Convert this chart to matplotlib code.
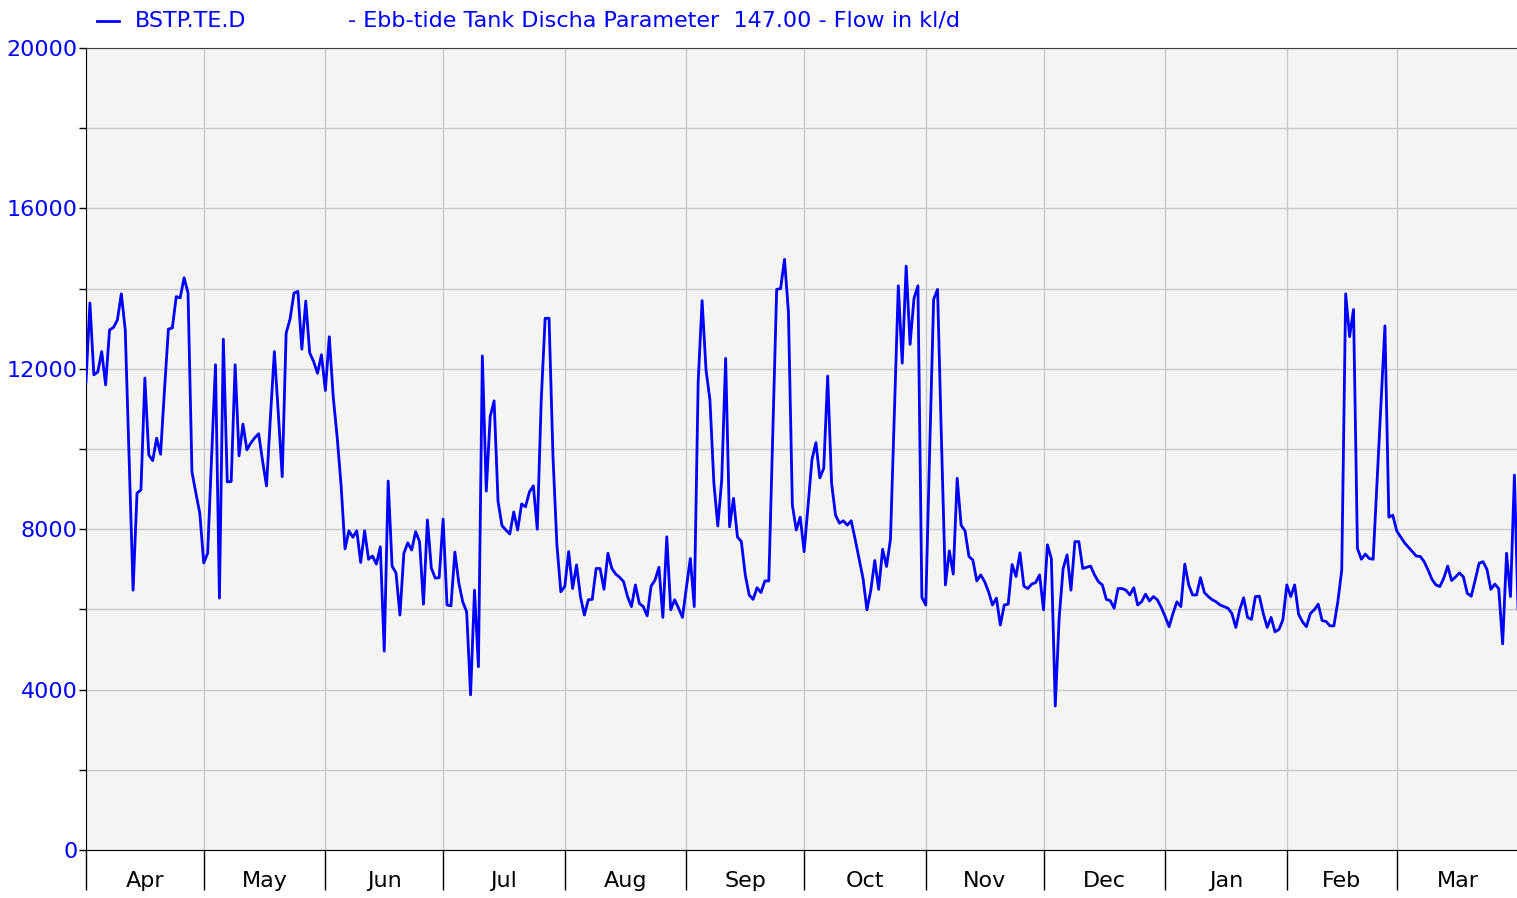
import numpy as np
import matplotlib
matplotlib.use("Agg")
import matplotlib.pyplot as plt
from matplotlib.lines import Line2D
from matplotlib.ticker import MultipleLocator, FixedLocator, NullFormatter

# daily flow in kl/d, one list per month (Apr .. Mar)
apr = [11680, 13640, 11850, 11920, 12430, 11600, 12970, 13030, 13220, 13870,
       12970, 9700, 6480, 8900, 8980, 11770, 9850, 9710, 10270, 9870,
       11470, 12990, 13020, 13800, 13770, 14270, 13890, 9430, 8900, 8400]
may = [7160, 7400, 9800, 12100, 6280, 12740, 9180, 9190, 12100, 9830,
       10620, 9980, 10150, 10280, 10380, 9700, 9080, 10800, 12430, 10900,
       9310, 12890, 13240, 13890, 13930, 12490, 13690, 12400, 12180, 11890, 12350]
jun = [11460, 12800, 11300, 10300, 9100, 7510, 7960, 7800, 7960, 7170,
       7960, 7250, 7330, 7130, 7560, 4960, 9200, 7080, 6910, 5860,
       7400, 7660, 7480, 7940, 7690, 6130, 8230, 7030, 6780, 6790]
jul = [8250, 6110, 6090, 7430, 6660, 6190, 5940, 3870, 6480, 4570,
       12320, 8950, 10810, 11200, 8690, 8090, 7980, 7880, 8430, 7980,
       8630, 8560, 8930, 9080, 8000, 11200, 13260, 13260, 9810, 7610, 6440]
aug = [6570, 7440, 6520, 7110, 6320, 5860, 6240, 6250, 7020, 7020,
       6500, 7400, 7020, 6880, 6800, 6690, 6320, 6070, 6610, 6150,
       6070, 5840, 6580, 6730, 7050, 5800, 7810, 5990, 6240, 6030, 5800]
sep = [6550, 7270, 6070, 11680, 13700, 11970, 11220, 9150, 8080, 9230,
       12260, 8060, 8770, 7810, 7690, 6860, 6360, 6250, 6540, 6420,
       6710, 6710, 10300, 13980, 14000, 14730, 13420, 8600, 7980, 8300]
oct_ = [7440, 8600, 9740, 10160, 9280, 9520, 11820, 9140, 8350, 8150,
        8210, 8100, 8210, 7750, 7270, 6780, 5990, 6480, 7220, 6500,
        7500, 7070, 7750, 10900, 14070, 12140, 14560, 12610, 13760, 14070, 6300]
nov = [6110, 10000, 13730, 13980, 10200, 6610, 7460, 6880, 9270, 8100,
       7960, 7320, 7230, 6710, 6860, 6690, 6440, 6110, 6280, 5610,
       6110, 6130, 7120, 6820, 7410, 6580, 6520, 6630, 6670, 6860]
dec = [5990, 7610, 7270, 3590, 5800, 7020, 7360, 6480, 7690, 7690,
       7020, 7050, 7080, 6860, 6690, 6610, 6250, 6220, 6030, 6520,
       6520, 6480, 6360, 6540, 6110, 6190, 6380, 6210, 6320, 6240, 6050]
jan = [5820, 5570, 5900, 6190, 6070, 7130, 6610, 6360, 6360, 6790,
       6420, 6320, 6240, 6190, 6110, 6070, 6030, 5900, 5550, 5990,
       6290, 5800, 5750, 6320, 6330, 5900, 5550, 5800, 5440, 5500, 5740]
feb = [6610, 6320, 6610, 5880, 5690, 5570, 5900, 5990, 6130, 5720,
       5700, 5590, 5590, 6190, 6980, 13870, 12800, 13480, 7520, 7250,
       7380, 7270, 7250, 9200, 11200, 13070, 8300, 8350]
mar = [7960, 7810, 7660, 7550, 7440, 7330, 7320, 7190, 6980, 6750,
       6610, 6570, 6780, 7080, 6720, 6810, 6910, 6810, 6400, 6330,
       6730, 7150, 7190, 7000, 6500, 6630, 6520, 5140, 7400, 6320, 9350]
next_apr = [5700]   # first day after the range, cut off at the right edge

months = ["Apr", "May", "Jun", "Jul", "Aug", "Sep", "Oct", "Nov", "Dec", "Jan", "Feb", "Mar"]
month_data = [apr, may, jun, jul, aug, sep, oct_, nov, dec, jan, feb, mar]

flow = np.concatenate(month_data + [next_apr])
days = np.arange(len(flow))
lengths = [len(m) for m in month_data]
bounds = np.concatenate([[0], np.cumsum(lengths)])
mids = (bounds[:-1] + bounds[1:]) / 2

blue = "#0000ff"
plt.rcParams["font.family"] = "DejaVu Sans"

fig = plt.figure(figsize=(15.17, 8.98), dpi=100)
ax = fig.add_axes([86 / 1517, 48 / 898, 1 - 86 / 1517, 802 / 898])
ax.set_facecolor("#f4f4f4")

ax.plot(days, flow, color=blue, lw=2.0, zorder=3)

ax.set_xlim(0, 364.66)
ax.set_ylim(0, 20000)

# month boundaries: long ticks, no labels; month names centred between them
ax.xaxis.set_major_locator(FixedLocator(bounds))
ax.xaxis.set_major_formatter(NullFormatter())
ax.xaxis.set_minor_locator(FixedLocator(mids))
ax.set_xticklabels(months, minor=True)
ax.tick_params(axis="x", which="major", length=29, width=1, color="black", direction="out")
ax.tick_params(axis="x", which="minor", length=0, pad=15, labelsize=16, labelcolor="black")

ax.yaxis.set_major_locator(MultipleLocator(4000))
ax.yaxis.set_minor_locator(MultipleLocator(2000))
ax.tick_params(axis="y", which="both", length=5, width=1, color="black", direction="out",
               labelsize=16, labelcolor=blue, pad=1)

ax.grid(True, which="major", axis="x", color="#c8c8c8", lw=1)
ax.grid(True, which="both", axis="y", color="#c8c8c8", lw=1)
ax.set_axisbelow(True)

for s in ["left", "bottom"]:
    ax.spines[s].set_color("black")
ax.spines["top"].set_color("#404040")
ax.spines["right"].set_visible(False)

# legend line at the top
ly = 1 - 21 / 898
fig.add_artist(Line2D([97 / 1517, 119 / 1517], [ly, ly], color=blue, lw=2))
fig.text(135 / 1517, ly, "BSTP.TE.D", color=blue, fontsize=16, va="center")
fig.text(348 / 1517, ly, "- Ebb-tide Tank Discha Parameter  147.00 - Flow in kl/d",
         color=blue, fontsize=16, va="center")

fig.savefig("out.png", dpi=100)
